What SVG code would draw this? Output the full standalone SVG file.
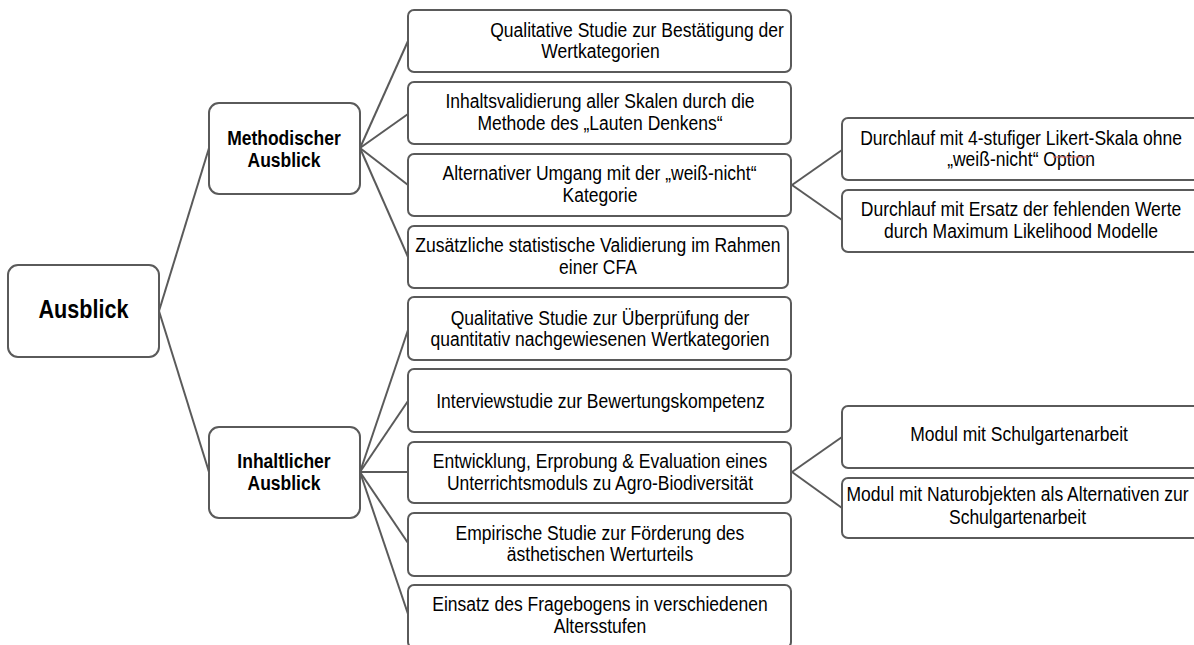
<svg xmlns="http://www.w3.org/2000/svg" width="1194" height="645" viewBox="0 0 1194 645">
<style>
.box{fill:#fff;stroke:#5a5a5a;stroke-width:2}
.con line{stroke:#5a5a5a;stroke-width:2;fill:none}
.t{font-family:"Liberation Sans",Arial,sans-serif;font-size:20px;fill:#000;text-anchor:middle}
.b1{font-family:"Liberation Sans",Arial,sans-serif;font-size:21px;font-weight:bold;fill:#000;text-anchor:middle}
.b0{font-family:"Liberation Sans",Arial,sans-serif;font-size:25px;font-weight:bold;fill:#000;text-anchor:middle}
</style>
<rect width="1194" height="645" fill="#fff"/>
<g id="connectors" class="con">
<line x1="159" y1="311" x2="209" y2="148"/>
<line x1="159" y1="311" x2="209" y2="472"/>
<line x1="360" y1="148" x2="408" y2="41"/>
<line x1="360" y1="148" x2="408" y2="114"/>
<line x1="360" y1="148" x2="408" y2="185"/>
<line x1="360" y1="148" x2="408" y2="257"/>
<line x1="360" y1="472" x2="408" y2="330"/>
<line x1="360" y1="472" x2="408" y2="401"/>
<line x1="360" y1="472" x2="408" y2="472"/>
<line x1="360" y1="472" x2="408" y2="543"/>
<line x1="360" y1="472" x2="408" y2="614"/>
<line x1="792" y1="185" x2="842" y2="150"/>
<line x1="792" y1="185" x2="842" y2="220"/>
<line x1="792" y1="472" x2="842" y2="437"/>
<line x1="792" y1="472" x2="842" y2="508"/>
</g>
<g id="n-ausblick">
<rect class="box" x="8" y="265" width="151" height="92" rx="10"/>
<text class="b0" transform="scale(0.864 1)" x="96.6" y="318">Ausblick</text>
</g>
<g id="n-methodisch">
<rect class="box" x="209" y="103" width="151" height="91" rx="10"/>
<text class="b1" transform="scale(0.8333 1)" x="340.8" y="145">Methodischer</text>
<text class="b1" transform="scale(0.8333 1)" x="340.8" y="167">Ausblick</text>
</g>
<g id="n-inhaltlich">
<rect class="box" x="209" y="427" width="151" height="91" rx="10"/>
<text class="b1" transform="scale(0.8333 1)" x="340.8" y="468.5">Inhaltlicher</text>
<text class="b1" transform="scale(0.8333 1)" x="340.8" y="490.5">Ausblick</text>
</g>
<g id="n-m1">
<rect class="box" x="408" y="10" width="383" height="62" rx="6"/>
<text class="t" transform="scale(0.875 1)" x="728" y="37">Qualitative Studie zur Bestätigung der</text>
<text class="t" transform="scale(0.875 1)" x="686.3" y="58.5">Wertkategorien</text>
</g>
<g id="n-m2">
<rect class="box" x="408" y="82" width="383" height="62" rx="6"/>
<text class="t" transform="scale(0.875 1)" x="685.7" y="108.5">Inhaltsvalidierung aller Skalen durch die</text>
<text class="t" transform="scale(0.875 1)" x="685.7" y="130">Methode des „Lauten Denkens“</text>
</g>
<g id="n-m3">
<rect class="box" x="408" y="154" width="383" height="62" rx="6"/>
<text class="t" transform="scale(0.875 1)" x="685.2" y="180.5">Alternativer Umgang mit der „weiß-nicht“</text>
<text class="t" transform="scale(0.875 1)" x="685.7" y="202">Kategorie</text>
</g>
<g id="n-m4">
<rect class="box" x="408" y="226" width="380" height="62" rx="6"/>
<text class="t" transform="scale(0.875 1)" x="683.4" y="252">Zusätzliche statistische Validierung im Rahmen</text>
<text class="t" transform="scale(0.875 1)" x="683.4" y="274">einer CFA</text>
</g>
<g id="n-i1">
<rect class="box" x="408" y="297" width="383" height="63" rx="6"/>
<text class="t" transform="scale(0.875 1)" x="685.7" y="325">Qualitative Studie zur Überprüfung der</text>
<text class="t" transform="scale(0.875 1)" x="685.7" y="346.5">quantitativ nachgewiesenen Wertkategorien</text>
</g>
<g id="n-i2">
<rect class="box" x="408" y="369" width="383" height="63" rx="6"/>
<text class="t" transform="scale(0.875 1)" x="686.3" y="408">Interviewstudie zur Bewertungskompetenz</text>
</g>
<g id="n-i3">
<rect class="box" x="408" y="442" width="383" height="61" rx="6"/>
<text class="t" transform="scale(0.875 1)" x="685.7" y="468">Entwicklung, Erprobung &amp; Evaluation eines</text>
<text class="t" transform="scale(0.875 1)" x="685.7" y="490">Unterrichtsmoduls zu Agro-Biodiversität</text>
</g>
<g id="n-i4">
<rect class="box" x="408" y="513" width="383" height="63" rx="6"/>
<text class="t" transform="scale(0.875 1)" x="685.7" y="540">Empirische Studie zur Förderung des</text>
<text class="t" transform="scale(0.875 1)" x="685.7" y="561.5">ästhetischen Werturteils</text>
</g>
<g id="n-i5">
<rect class="box" x="408" y="585" width="383" height="63" rx="6"/>
<text class="t" transform="scale(0.875 1)" x="685.7" y="611.5">Einsatz des Fragebogens in verschiedenen</text>
<text class="t" transform="scale(0.875 1)" x="685.7" y="633">Altersstufen</text>
</g>
<g id="n-m3a">
<rect class="box" x="842" y="118" width="362" height="62" rx="6"/>
<text class="t" transform="scale(0.875 1)" x="1166.9" y="145">Durchlauf mit 4-stufiger Likert-Skala ohne</text>
<text class="t" transform="scale(0.875 1)" x="1166.9" y="166.5">„weiß-nicht“ Option</text>
<line x1="1053" y1="157" x2="1088" y2="157" stroke="#e07070" stroke-width="1"/>
</g>
<g id="n-m3b">
<rect class="box" x="842" y="190" width="362" height="62" rx="6"/>
<text class="t" transform="scale(0.875 1)" x="1166.9" y="216.5">Durchlauf mit Ersatz der fehlenden Werte</text>
<text class="t" transform="scale(0.875 1)" x="1166.9" y="238">durch Maximum Likelihood Modelle</text>
</g>
<g id="n-i3a">
<rect class="box" x="842" y="406" width="362" height="62" rx="6"/>
<text class="t" transform="scale(0.875 1)" x="1164.6" y="441.5">Modul mit Schulgartenarbeit</text>
</g>
<g id="n-i3b">
<rect class="box" x="842" y="478" width="362" height="60" rx="6"/>
<text class="t" transform="scale(0.875 1)" x="1162.9" y="501.5">Modul mit Naturobjekten als Alternativen zur</text>
<text class="t" transform="scale(0.875 1)" x="1162.9" y="524">Schulgartenarbeit</text>
</g>
</svg>
